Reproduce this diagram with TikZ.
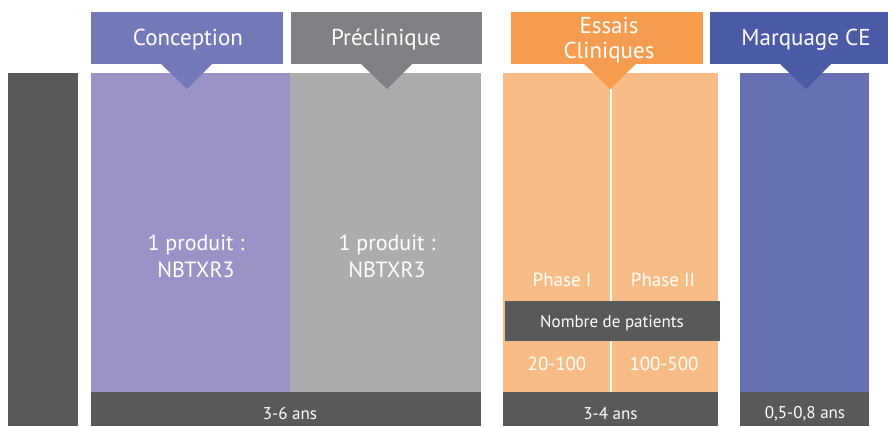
\documentclass[tikz,border=0pt]{standalone}
\usepackage{fontspec}
\setmainfont{PT Sans}
\definecolor{dgray}{HTML}{58595B}
\definecolor{conH}{HTML}{7379B9}
\definecolor{conB}{HTML}{9B93C6}
\definecolor{preH}{HTML}{808184}
\definecolor{preB}{HTML}{ABACAE}
\definecolor{essH}{HTML}{F69C4F}
\definecolor{essB}{HTML}{F8BD87}
\definecolor{marH}{HTML}{4B5BA8}
\definecolor{marB}{HTML}{6870B4}
\begin{document}
\begin{tikzpicture}[x=1pt,y=-1pt,
  blk/.style={rectangle,inner sep=0pt,draw=none,text=white,align=center},
  hdr/.style={blk,minimum height=52pt},
  htxt/.style={text=white,align=center,font=\fontsize{23}{25}\selectfont},
  bdy/.style={blk,minimum height=319pt},
  bar/.style={blk,fill=dgray,minimum height=34pt},
  bartxt/.style={text=white,font=\fontsize{17}{20}\selectfont},
  btxt/.style={text=white,align=center,font=\fontsize{22}{27}\selectfont},
  ptxt/.style={text=white,font=\fontsize{19}{22}\selectfont}]
\useasboundingbox (0,0) rectangle (888,426);
% left bar
\node[blk,fill=dgray,minimum width=70pt,minimum height=353pt] (left) at (43,249.5) {};
% bodies
\node[bdy,fill=conB,minimum width=199pt] (conB) at (190.5,232.5) {};
\node[bdy,fill=preB,minimum width=191pt] (preB) at (385.5,232.5) {};
\node[bdy,fill=essB,minimum width=215pt] (essB) at (610.5,232.5) {};
\node[bdy,fill=marB,minimum width=129pt] (marB) at (804.5,232.5) {};
% headers
\node[hdr,fill=conH,minimum width=192pt] (conH) at (187,38) {};
\node[hdr,fill=preH,minimum width=191pt] (preH) at (386.5,38) {};
\node[hdr,fill=essH,minimum width=192pt] (essH) at (607,38) {};
\node[hdr,fill=marH,minimum width=178pt] (marH) at (799,38) {};
\node[htxt] (conL) at (188,40) {Conception};
\node[htxt] (preL) at (386,40) {Préclinique};
\node[htxt] (essL) at (609,40) {Essais\\Cliniques};
\node[htxt] (marL) at (806,40) {Marquage CE};
% pointers
\fill[conH] (160,63) -- (213,63) -- (187,89) -- cycle;
\fill[preH] (360,63) -- (413,63) -- (387,89) -- cycle;
\fill[essH] (583,63) -- (637,63) -- (610,89) -- cycle;
\fill[marH] (779,63) -- (832,63) -- (806,89) -- cycle;
% body texts
\node[btxt] (conT) at (196,256) {1 produit :\\NBTXR3};
\node[btxt] (preT) at (387,256) {1 produit :\\NBTXR3};
% essais split
\coordinate (sTop) at (610.5,89);
\coordinate (sBot) at (610.5,392);
\draw[white,line width=2pt] (sTop) -- (sBot);
\node[ptxt] (ph1) at (562,280) {Phase I};
\node[ptxt] (ph2) at (663,280) {Phase II};
\node[bar,minimum width=215pt,minimum height=40pt] (nb) at (612.5,321) {};
\node[bartxt] (nbL) at (612,323) {Nombre de patients};
\node[ptxt] (n1) at (557,364) {20-100};
\node[ptxt] (n2) at (664,364) {100-500};
% bottom bars
\node[bar,minimum width=390pt] (b1) at (286,409) {};
\node[bar,minimum width=215pt] (b2) at (610.5,409) {};
\node[bar,minimum width=129pt] (b3) at (804.5,409) {};
\node[bartxt] (b1L) at (290,414) {3-6 ans};
\node[bartxt] (b2L) at (610.5,414) {3-4 ans};
\node[bartxt] (b3L) at (805,414) {0,5-0,8 ans};
\end{tikzpicture}
\end{document}
